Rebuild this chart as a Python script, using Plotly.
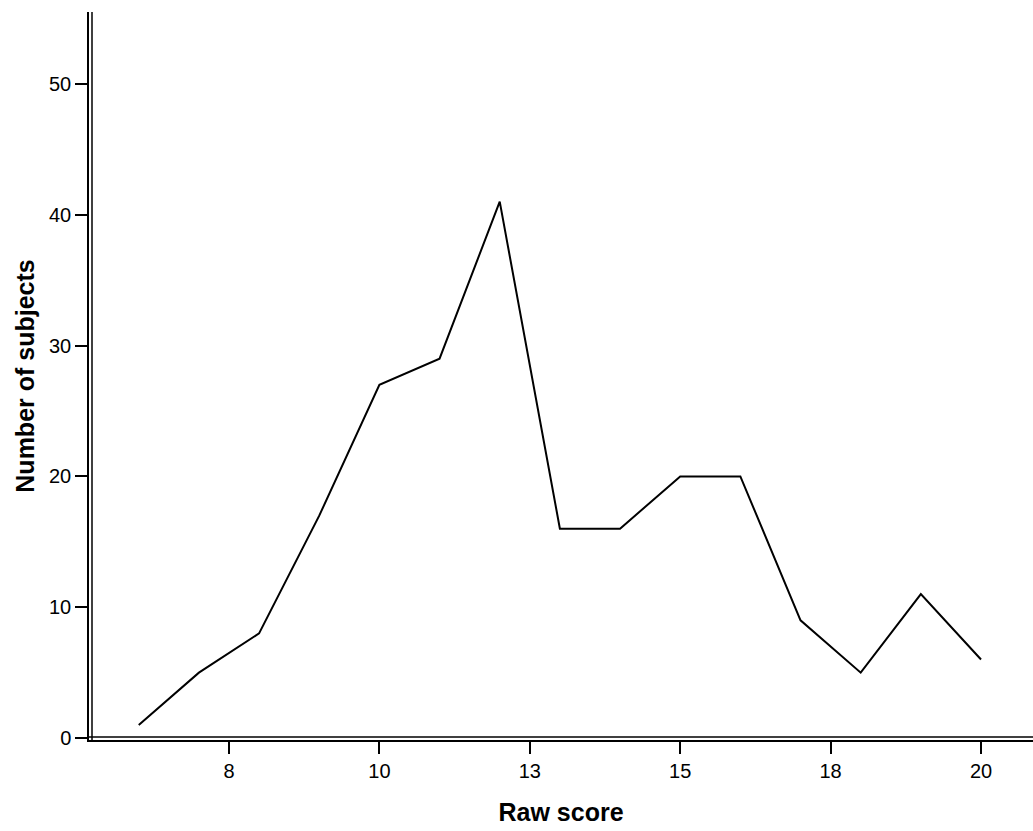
import plotly.graph_objects as go

raw_score = [6, 7, 8, 9, 10, 11, 12, 13, 14, 15, 16, 17, 18, 19, 20]
subjects = [1, 5, 8, 17, 27, 29, 41, 16, 16, 20, 20, 9, 5, 11, 6]
x_tickvals = [7.5, 10, 12.5, 15, 17.5, 20]
x_ticktext = ["8", "10", "13", "15", "18", "20"]
y_tickvals = [0, 10, 20, 30, 40, 50]

fig = go.Figure()
fig.add_trace(go.Scatter(x=raw_score, y=subjects, mode="lines",
                         line=dict(color="black", width=2), showlegend=False))

font = "Liberation Sans, Arial, sans-serif"
fig.update_layout(
    width=1033, height=831,
    margin=dict(l=89, r=0, t=12, b=91),
    paper_bgcolor="white", plot_bgcolor="white",
    font=dict(family=font, size=20, color="black"),
    xaxis=dict(range=[5.173, 20.864], tickvals=x_tickvals, ticktext=x_ticktext,
               tickfont=dict(family=font, size=20, color="black"),
               showgrid=False, zeroline=False, showline=True, linecolor="black", linewidth=1.5,
               ticks="outside", ticklen=12, tickwidth=2, tickcolor="black",
               title=dict(text="<b>Raw score</b>", font=dict(family=font, size=25, color="black"),
                          standoff=23)),
    yaxis=dict(range=[-0.15, 55.5], tickvals=y_tickvals,
               tickfont=dict(family=font, size=20, color="black"),
               showgrid=False, zeroline=False, showline=True, linecolor="black", linewidth=1.5,
               ticks="outside", ticklen=12, tickwidth=2, tickcolor="black",
               title=dict(text="<b>Number of subjects</b>", font=dict(family=font, size=25, color="black"),
                          standoff=7)),
)
# inner lines of the double axis frame
fig.add_shape(type="line", xref="paper", yref="paper", xsizemode="pixel", xanchor=0,
              x0=3, x1=3, y0=0, y1=1, line=dict(color="black", width=1.5))
fig.add_shape(type="line", xref="paper", yref="paper", ysizemode="pixel", yanchor=0,
              y0=3, y1=3, x0=0, x1=1, line=dict(color="black", width=1.5))

fig.write_html("out.html")
